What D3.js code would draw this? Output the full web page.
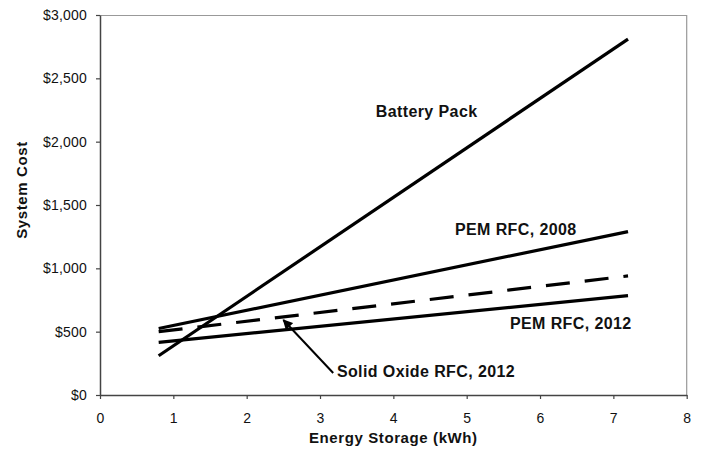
<!DOCTYPE html>
<html>
<head>
<meta charset="utf-8">
<style>
body { margin: 0; background: #fff; }
svg { display: block; font-family: "Liberation Sans", Arial, sans-serif; }
.tick text { font-size: 14px; letter-spacing: 0.2px; fill: #111; }
.label { font-size: 16px; font-weight: bold; letter-spacing: 0.4px; fill: #111; }
.title { font-size: 15px; font-weight: bold; letter-spacing: 0.6px; fill: #111; }
</style>
</head>
<body>
<svg id="chart"></svg>
<script src="https://cdnjs.cloudflare.com/ajax/libs/d3/7.8.5/d3.min.js"></script>
<script>
// kWh at the two ends of every line
var storage = [0.8, 7.2]
var batteryPack = [310, 2810]
var pem2008 = [525, 1290]
var sofc2012 = [500, 940]
var pem2012 = [415, 785]
var xTicks = [0, 1, 2, 3, 4, 5, 6, 7, 8]
var yTicks = [0, 500, 1000, 1500, 2000, 2500, 3000]

var series = [
  {name: "Battery Pack", values: batteryPack, dash: null},
  {name: "PEM RFC, 2008", values: pem2008, dash: null},
  {name: "Solid Oxide RFC, 2012", values: sofc2012, dash: "24,15"},
  {name: "PEM RFC, 2012", values: pem2012, dash: null}
]

// label spots, in data units
var labels = [
  {text: "Battery Pack", x: 3.76, y: 2197},
  {text: "PEM RFC, 2008", x: 4.84, y: 1263},
  {text: "PEM RFC, 2012", x: 5.59, y: 521},
  {text: "Solid Oxide RFC, 2012", x: 3.23, y: 142}
]
var arrow = {from: [3.18, 174], to: [2.5, 592]}

var W = 702, H = 456
var margin = {top: 15, right: 15.3, bottom: 61, left: 100}
var width = W - margin.left - margin.right,
    height = H - margin.top - margin.bottom

var svg = d3.select("#chart").attr("width", W).attr("height", H)

svg.append("defs").append("marker")
    .attr("id", "head")
    .attr("viewBox", "0 0 10 10")
    .attr("refX", 9).attr("refY", 5)
    .attr("markerWidth", 5.5).attr("markerHeight", 5)
    .attr("orient", "auto")
  .append("path")
    .attr("d", "M0,0 L10,5 L0,10 z")
    .attr("fill", "#000")

var g = svg.append("g")
    .attr("transform", "translate(" + margin.left + "," + margin.top + ")")

var x = d3.scaleLinear().domain([0, 8]).range([0, width])
var y = d3.scaleLinear().domain([0, 3000]).range([height, 0])

// top and right frame
g.append("path")
    .attr("d", "M0,0.5H" + width + "V" + height)
    .attr("fill", "none")
    .attr("stroke", "#999")
    .attr("stroke-width", 1.2)

g.append("g")
    .attr("transform", "translate(0," + height + ")")
    .call(d3.axisBottom(x).tickValues(xTicks).tickSize(4).tickPadding(14).tickSizeOuter(0))
g.append("g")
    .call(d3.axisLeft(y).tickValues(yTicks).tickSize(4).tickPadding(9).tickSizeOuter(0)
      .tickFormat(function(d) { return "$" + d3.format(",")(d) }))

g.selectAll(".domain").attr("stroke", "#444").attr("stroke-width", 1.5)
g.selectAll(".tick line").attr("stroke", "#444").attr("stroke-width", 1.2)

var line = d3.line()
    .x(function(d) { return x(d[0]) })
    .y(function(d) { return y(d[1]) })

g.selectAll(".series")
    .data(series)
  .enter().append("path")
    .attr("class", "series")
    .attr("d", function(s) { return line(storage.map(function(k, i) { return [k, s.values[i]] })) })
    .attr("fill", "none")
    .attr("stroke", "#000")
    .attr("stroke-width", 3.2)
    .attr("stroke-dasharray", function(s) { return s.dash })

g.selectAll(".label")
    .data(labels)
  .enter().append("text")
    .attr("class", "label")
    .attr("x", function(d) { return x(d.x) })
    .attr("y", function(d) { return y(d.y) })
    .text(function(d) { return d.text })

g.append("line")
    .attr("x1", x(arrow.from[0])).attr("y1", y(arrow.from[1]))
    .attr("x2", x(arrow.to[0])).attr("y2", y(arrow.to[1]))
    .attr("stroke", "#000")
    .attr("stroke-width", 2)
    .attr("marker-end", "url(#head)")

g.append("text")
    .attr("class", "title")
    .attr("x", width / 2)
    .attr("y", height + 48)
    .attr("text-anchor", "middle")
    .text("Energy Storage (kWh)")

g.append("text")
    .attr("class", "title")
    .attr("transform", "translate(-73," + (height / 2 - 15) + ") rotate(-90)")
    .attr("text-anchor", "middle")
    .text("System Cost")
</script>
</body>
</html>
